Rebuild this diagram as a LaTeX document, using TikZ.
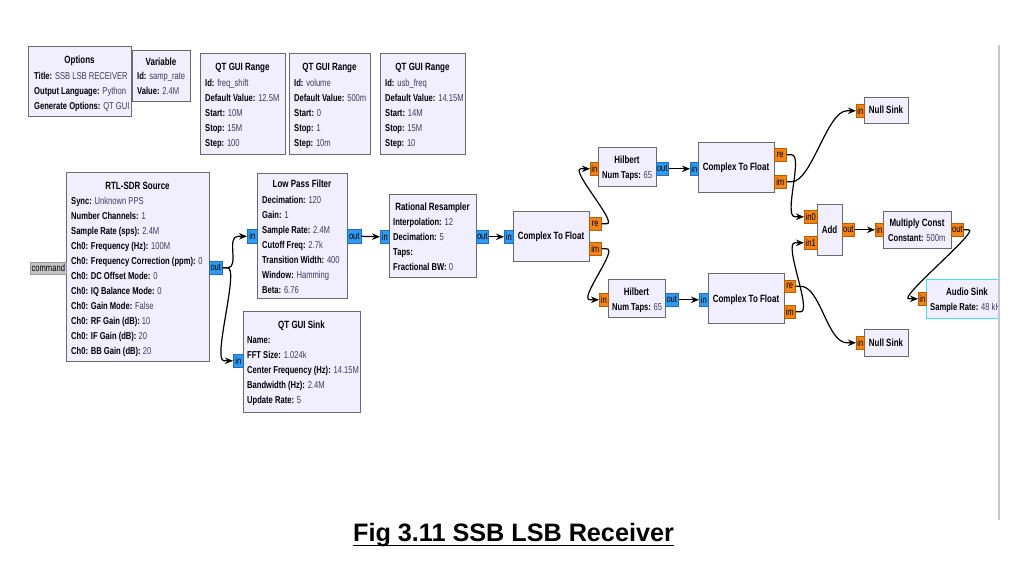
\documentclass[tikz,border=0pt]{standalone}
\usepackage{fontspec}
\setmainfont{Liberation Sans}[FakeStretch=0.76]
\newfontfamily\captfont{Liberation Sans}
\usetikzlibrary{arrows.meta}
\definecolor{blockfill}{HTML}{F1EEFF}
\definecolor{blockline}{HTML}{6A6A6A}
\definecolor{valcol}{HTML}{3C3C5C}
\definecolor{cplx}{HTML}{3399EE}
\definecolor{cplxline}{HTML}{1F6FBF}
\definecolor{flt}{HTML}{F08419}
\definecolor{fltline}{HTML}{B85E00}
\definecolor{cmdfill}{HTML}{C4C4C4}
\definecolor{cmdline}{HTML}{9A9A9A}
\definecolor{selcol}{HTML}{3FE3F0}
\definecolor{framegray}{HTML}{C6C6C6}
\newcommand\blkfont{\fontsize{10}{15}\selectfont}
\newcommand\ttlfont{\fontsize{10.5}{15}\selectfont}
\newcommand\kv[2]{\strut\textbf{#1:} {\color{valcol}#2}}
\tikzset{
  blk/.style={draw=blockline, fill=blockfill, line width=1.3pt, inner sep=0pt, anchor=north west},
  ttl/.style={font=\ttlfont\bfseries, inner sep=0pt, anchor=base},
  bdy/.style={font=\blkfont, inner sep=0pt, anchor=north west, align=left},
  cport/.style={draw=cplxline, fill=cplx, line width=0.6pt, inner sep=0pt, anchor=north west, font=\blkfont},
  fport/.style={draw=fltline, fill=flt, line width=0.6pt, inner sep=0pt, anchor=north west, font=\blkfont},
  mport/.style={draw=cmdline, fill=cmdfill, line width=0.6pt, inner sep=0pt, anchor=north west, font=\blkfont},
  conn/.style={line width=1.2pt, -{Stealth[length=8pt,width=6.5pt]}},
}
% block: name, x0, y0, x1, y1
\newcommand\blkbox[5]{\node[blk, minimum width=#4-#2, minimum height=#5-#3] (#1) at (#2,#3) {};}
% port: style, name, x0, y0, x1, y1, text
\newcommand\mkport[7]{\node[#1, minimum width=#5-#3, minimum height=#6-#4] (#2) at (#3,#4) {#7};}
% curved wire: control length, from, to
\newcommand\wire[3][12]{\draw[conn] (#2.east) -- ++(5,0) .. controls +(#1,0) and +(-#1,0) .. ([xshift=-9pt]#3.west) -- (#3.west);}
\begin{document}
\begin{tikzpicture}[x=1pt,y=-1pt]
\useasboundingbox (0,0) rectangle (1034,575);
\fill[white] (0,0) rectangle (1034,575);

% ---------- top row ----------
\blkbox{opt}{28}{46}{131}{116}
\node[ttl] (opt-t) at (79.5,64) {Options};
\node[bdy] (opt-b) at (34,68.5) {\kv{Title}{SSB LSB RECEIVER}\\\kv{Output Language}{Python}\\\kv{Generate Options}{QT GUI}};

\blkbox{var}{132}{50}{190}{101}
\node[ttl] (var-t) at (161,65.5) {Variable};
\node[bdy] (var-b) at (137,69) {\kv{Id}{samp\_rate}\\\kv{Value}{2.4M}};

\blkbox{rg1}{200}{53}{285}{154}
\node[ttl] (rg1-t) at (242.5,71) {QT GUI Range};
\node[bdy] (rg1-b) at (205,75.5) {\kv{Id}{freq\_shift}\\\kv{Default Value}{12.5M}\\\kv{Start}{10M}\\\kv{Stop}{15M}\\\kv{Step}{100}};

\blkbox{rg2}{289}{53}{370}{154}
\node[ttl] (rg2-t) at (329.5,71) {QT GUI Range};
\node[bdy] (rg2-b) at (294,75.5) {\kv{Id}{volume}\\\kv{Default Value}{500m}\\\kv{Start}{0}\\\kv{Stop}{1}\\\kv{Step}{10m}};

\blkbox{rg3}{380}{53}{465}{154}
\node[ttl] (rg3-t) at (422.5,71) {QT GUI Range};
\node[bdy] (rg3-b) at (385,75.5) {\kv{Id}{usb\_freq}\\\kv{Default Value}{14.15M}\\\kv{Start}{14M}\\\kv{Stop}{15M}\\\kv{Step}{10}};

% ---------- RTL-SDR Source ----------
\blkbox{rtl}{66}{172}{209}{361}
\node[ttl] (rtl-t) at (137.5,189.5) {RTL-SDR Source};
\node[bdy] (rtl-b) at (71,194) {\kv{Sync}{Unknown PPS}\\\kv{Number Channels}{1}\\\kv{Sample Rate (sps)}{2.4M}\\\kv{Ch0: Frequency (Hz)}{100M}\\\kv{Ch0: Frequency Correction (ppm)}{0}\\\kv{Ch0: DC Offset Mode}{0}\\\kv{Ch0: IQ Balance Mode}{0}\\\kv{Ch0: Gain Mode}{False}\\\kv{Ch0: RF Gain (dB)}{10}\\\kv{Ch0: IF Gain (dB)}{20}\\\kv{Ch0: BB Gain (dB)}{20}};
\mkport{mport}{rtl-cmd}{30}{262}{66}{274}{command}
\mkport{cport}{rtl-out}{209}{261}{222}{274}{out}

% ---------- Low Pass Filter ----------
\blkbox{lpf}{257}{173}{347}{298}
\node[ttl] (lpf-t) at (302,188) {Low Pass Filter};
\node[bdy] (lpf-b) at (262,192.3) {\kv{Decimation}{120}\\\kv{Gain}{1}\\\kv{Sample Rate}{2.4M}\\\kv{Cutoff Freq}{2.7k}\\\kv{Transition Width}{400}\\\kv{Window}{Hamming}\\\kv{Beta}{6.76}};
\mkport{cport}{lpf-in}{247}{229}{257}{243}{in}
\mkport{cport}{lpf-out}{347}{229}{361}{243}{out}

% ---------- QT GUI Sink ----------
\blkbox{snk}{243}{311}{360}{412}
\node[ttl] (snk-t) at (301.5,328.5) {QT GUI Sink};
\node[bdy] (snk-b) at (247,333) {\strut\textbf{Name:}\\\kv{FFT Size}{1.024k}\\\kv{Center Frequency (Hz)}{14.15M}\\\kv{Bandwidth (Hz)}{2.4M}\\\kv{Update Rate}{5}};
\mkport{cport}{snk-in}{233}{354}{243}{367}{in}

% ---------- Rational Resampler ----------
\blkbox{rr}{389}{194}{476}{277}
\node[ttl] (rr-t) at (432.5,210.2) {Rational Resampler};
\node[bdy] (rr-b) at (393,214.5) {\kv{Interpolation}{12}\\\kv{Decimation}{5}\\\kv{Taps}{}\\\kv{Fractional BW}{0}};
\mkport{cport}{rr-in}{380}{230}{389}{243}{in}
\mkport{cport}{rr-out}{476}{230}{488}{243}{out}

% ---------- Complex To Float 1 ----------
\blkbox{cf1}{513}{211}{589}{261}
\node[ttl] (cf1-t) at (551,240) {Complex To Float};
\mkport{cport}{cf1-in}{504}{230}{513}{243}{in}
\mkport{fport}{cf1-re}{589}{217}{601}{230}{re}
\mkport{fport}{cf1-im}{589}{242}{601}{255}{im}

% ---------- Hilbert blocks ----------
\blkbox{hb1}{598}{147}{656}{186}
\node[ttl] (hb1-t) at (627,163.5) {Hilbert};
\node[bdy] (hb1-b) at (602,168) {\kv{Num Taps}{65}};
\mkport{fport}{hb1-in}{590}{162}{598}{175}{in}
\mkport{cport}{hb1-out}{656}{162}{668}{175}{out}

\blkbox{hb2}{608}{279}{665}{317}
\node[ttl] (hb2-t) at (636.5,295.5) {Hilbert};
\node[bdy] (hb2-b) at (612,300) {\kv{Num Taps}{65}};
\mkport{fport}{hb2-in}{599}{293}{608}{306}{in}
\mkport{cport}{hb2-out}{665}{293}{678}{306}{out}

% ---------- Complex To Float 2 & 3 ----------
\blkbox{cf2}{698}{142}{774}{192}
\node[ttl] (cf2-t) at (736,171) {Complex To Float};
\mkport{cport}{cf2-in}{690}{162}{698}{175}{in}
\mkport{fport}{cf2-re}{774}{148}{786}{161}{re}
\mkport{fport}{cf2-im}{774}{175}{786}{188}{im}

\blkbox{cf3}{708}{273}{784}{323}
\node[ttl] (cf3-t) at (746,302.5) {Complex To Float};
\mkport{cport}{cf3-in}{699}{293}{708}{306}{in}
\mkport{fport}{cf3-re}{784}{280}{795}{292}{re}
\mkport{fport}{cf3-im}{784}{305}{795}{318}{im}

% ---------- Null sinks ----------
\blkbox{ns1}{864}{97}{908}{123}
\node[ttl] (ns1-t) at (886,114) {Null Sink};
\mkport{fport}{ns1-in}{856}{104}{864}{117}{in}

\blkbox{ns2}{864}{329}{908}{356}
\node[ttl] (ns2-t) at (886,346) {Null Sink};
\mkport{fport}{ns2-in}{856}{336}{864}{349}{in}

% ---------- Add ----------
\blkbox{add}{817}{204}{842}{255}
\node[ttl] (add-t) at (829.5,233.5) {Add};
\mkport{fport}{add-in0}{804}{210}{817}{223}{in0}
\mkport{fport}{add-in1}{804}{236}{817}{249}{in1}
\mkport{fport}{add-out}{842}{223}{854}{236}{out}

% ---------- Multiply Const ----------
\blkbox{mul}{883}{211}{951}{248}
\node[ttl] (mul-t) at (917,226.5) {Multiply Const};
\node[bdy] (mul-b) at (888,230.5) {\kv{Constant}{500m}};
\mkport{fport}{mul-in}{875}{223}{883}{236}{in}
\mkport{fport}{mul-out}{951}{223}{963}{236}{out}

% ---------- Audio Sink (clipped at the canvas edge) ----------
\begin{scope}
\clip (900,270) rectangle (998,330);
\node[blk, draw=selcol, minimum width=90, minimum height=39] (aud) at (926,279) {};
\node[ttl] (aud-t) at (967,295.5) {Audio Sink};
\node[bdy] (aud-b) at (930,300) {\kv{Sample Rate}{48 kHz}};
\end{scope}
\mkport{fport}{aud-in}{918}{292}{926}{305}{in}

% canvas edge
\coordinate (edge-top) at (999,45);
\coordinate (edge-bot) at (999,520);
\draw[framegray, line width=2pt] (edge-top) -- (edge-bot);

% ---------- connections ----------
\wire{rtl-out}{lpf-in}
\wire{rtl-out}{snk-in}
\draw[conn] (lpf-out.east) -- (rr-in.west);
\draw[conn] (rr-out.east) -- (cf1-in.west);
\wire{cf1-re}{hb1-in}
\wire{cf1-im}{hb2-in}
\draw[conn] (hb1-out.east) -- (cf2-in.west);
\draw[conn] (hb2-out.east) -- (cf3-in.west);
\wire{cf2-re}{add-in0}
\wire[20]{cf2-im}{ns1-in}
\wire[20]{cf3-re}{ns2-in}
\wire{cf3-im}{add-in1}
\draw[conn] (add-out.east) -- (mul-in.west);
\wire{mul-out}{aud-in}

% ---------- caption ----------
\node[font=\captfont\bfseries\fontsize{25.2}{28}\selectfont, inner sep=0pt, anchor=base] (cap) at (513.5,541) {Fig 3.11 SSB LSB Receiver};
\draw[line width=1.8pt] ([yshift=-4.5pt]cap.base west) -- ([yshift=-4.5pt]cap.base east);
\end{tikzpicture}
\end{document}
